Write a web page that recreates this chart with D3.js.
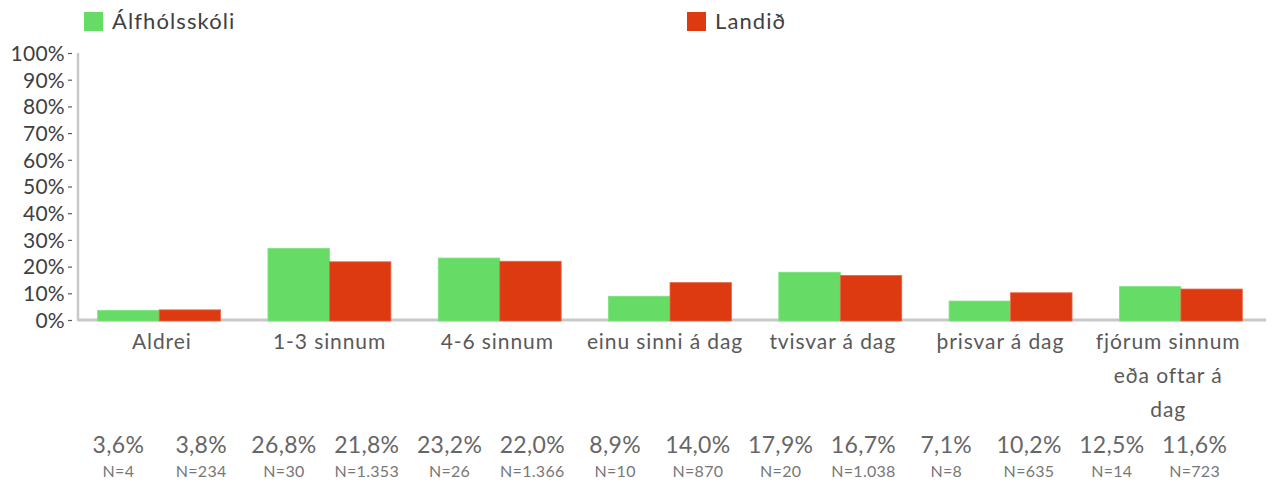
<!DOCTYPE html>
<html>
<head>
<meta charset="utf-8">
<script src="https://cdn.jsdelivr.net/npm/d3@7"></script>
<style>
  html, body { margin: 0; padding: 0; background: #ffffff; }
  svg { display: block; font-family: Lato, "Open Sans", sans-serif; }
</style>
</head>
<body>
<svg id="chart" width="1276" height="484"></svg>
<script>
// Answer categories (Icelandic survey: how often)
const categories = ["Aldrei", "1-3 sinnum", "4-6 sinnum", "einu sinni á dag", "tvisvar á dag", "þrisvar á dag", "fjórum sinnum eða oftar á dag"];
// Line breaks used when printing the category names under the axis
const categoryLines = [["Aldrei"], ["1-3 sinnum"], ["4-6 sinnum"], ["einu sinni á dag"], ["tvisvar á dag"], ["þrisvar á dag"], ["fjórum sinnum", "eða oftar á", "dag"]];
const seriesNames = ["Álfhólsskóli", "Landið"];
const schoolValues = [3.6, 26.8, 23.2, 8.9, 17.9, 7.1, 12.5];
const countryValues = [3.8, 21.8, 22.0, 14.0, 16.7, 10.2, 11.6];
const schoolN = ["4", "30", "26", "10", "20", "8", "14"];
const countryN = ["234", "1.353", "1.366", "870", "1.038", "635", "723"];
const yTicks = [0, 10, 20, 30, 40, 50, 60, 70, 80, 90, 100];

const colors = { "Álfhólsskóli": "#66dc66", "Landið": "#de3a12" };
const strokes = { "Álfhólsskóli": "#7ee27e", "Landið": "#e8684a" };

const svg = d3.select("#chart");
const axisX = 78, plotRight = 1266, y0 = 320, y100 = 53;

const x = d3.scaleBand().domain(categories).range([74, plotRight]).padding(0);
const bw = x.bandwidth();
const x1 = d3.scaleBand().domain(seriesNames).range([bw * 0.139, bw * 0.861]).padding(0);
const y = d3.scaleLinear().domain([0, 100]).range([y0, y100]);
// category names sit on a slightly narrower grid than the bar groups
const xLabel = d3.scaleBand().domain(categories).range([axisX, 1252]);

const fmtPct = v => v.toFixed(1).replace(".", ",") + "%";

// Legend
const legendX = { "Álfhólsskóli": 84, "Landið": 687 };
seriesNames.forEach(s => {
  const g = svg.append("g").attr("transform", `translate(${legendX[s]},12)`);
  g.append("rect").attr("width", 19).attr("height", 19).attr("fill", colors[s]);
  g.append("text").attr("x", 28).attr("y", 17).attr("font-size", 22)
    .attr("fill", "#404040").style("letter-spacing", "1.1px").text(s);
});

// Y axis
const yAxis = d3.axisLeft(y).tickValues(yTicks).tickSize(4).tickPadding(3)
  .tickFormat(d => d + "%");
const ya = svg.append("g").attr("transform", `translate(${axisX - 6},0)`).call(yAxis);
ya.select(".domain").remove();
ya.selectAll(".tick line").attr("stroke", "#595959").attr("stroke-width", 1.2);
ya.selectAll(".tick text").attr("font-size", 21).attr("fill", "#404040")
  .attr("font-family", "Lato, sans-serif").attr("dy", "0.35em")
  .style("letter-spacing", "0.3px");

svg.append("line").attr("x1", axisX).attr("x2", axisX).attr("y1", y100).attr("y2", y0 + 1)
  .attr("stroke", "#c8c8c8").attr("stroke-width", 2.5);
svg.append("line").attr("x1", axisX).attr("x2", plotRight).attr("y1", y0).attr("y2", y0)
  .attr("stroke", "#c8c8c8").attr("stroke-width", 3);

// Bars
const rows = categories.map((c, i) => ({ c, vals: [
  { s: seriesNames[0], v: schoolValues[i] },
  { s: seriesNames[1], v: countryValues[i] }
]}));
const groups = svg.append("g").selectAll("g").data(rows).join("g")
  .attr("transform", d => `translate(${x(d.c)},0)`);
groups.selectAll("rect").data(d => d.vals).join("rect")
  .attr("x", d => x1(d.s))
  .attr("width", x1.bandwidth())
  .attr("y", d => y(d.v))
  .attr("height", d => y0 + 1 - y(d.v))
  .attr("fill", d => colors[d.s])
  .attr("stroke", d => strokes[d.s]).attr("stroke-width", 0.8);

// Category labels
const lx = d => xLabel(d) + xLabel.bandwidth() / 2;
const catText = svg.append("g").selectAll("text").data(categories).join("text")
  .attr("x", lx)
  .attr("y", 349)
  .attr("text-anchor", "middle").attr("font-size", 21).attr("fill", "#595959")
  .style("letter-spacing", "0.9px");
catText.each(function(d, i) {
  const t = d3.select(this);
  categoryLines[i].forEach((ln, j) => {
    t.append("tspan").attr("x", lx(d)).attr("dy", j === 0 ? 0 : 34).text(ln);
  });
});

// Value table beneath the chart
const cols = [];
categories.forEach((c, i) => {
  cols.push({ key: c + "|0", pct: schoolValues[i], n: schoolN[i] });
  cols.push({ key: c + "|1", pct: countryValues[i], n: countryN[i] });
});
const xc = d3.scaleBand().domain(cols.map(d => d.key)).range([axisX - 1, 1236]);
svg.append("g").selectAll("text").data(cols).join("text")
  .attr("x", d => xc(d.key) + xc.bandwidth() / 2).attr("y", 453)
  .attr("text-anchor", "middle").attr("font-size", 23).attr("fill", "#666666")
  .style("letter-spacing", "0.3px")
  .text(d => fmtPct(d.pct));
svg.append("g").selectAll("text").data(cols).join("text")
  .attr("x", d => xc(d.key) + xc.bandwidth() / 2).attr("y", 477)
  .attr("text-anchor", "middle").attr("font-size", 16).attr("fill", "#777777")
  .style("letter-spacing", "0.3px")
  .text(d => "N=" + d.n);
</script>
</body>
</html>
